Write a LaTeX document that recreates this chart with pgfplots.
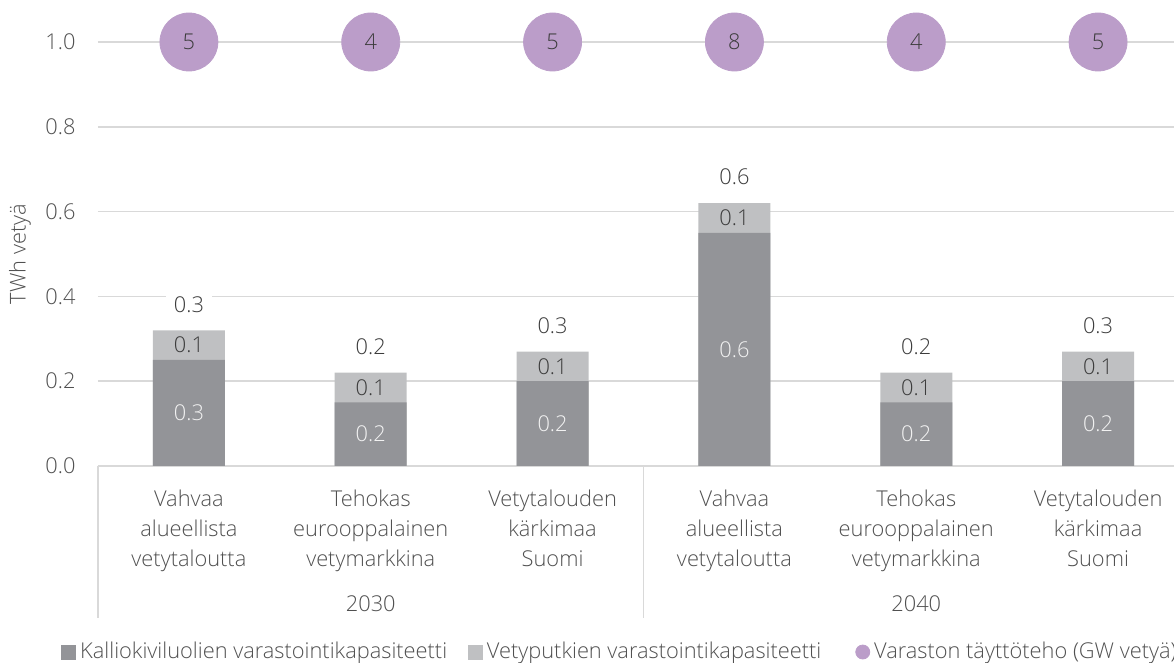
\documentclass[border=0pt]{standalone}
\usepackage{pgfplots}
\pgfplotsset{compat=1.18}
\usepackage{pgfplotstable}
\usepackage{fontspec}
\setmainfont{Open Sans Light}
\definecolor{darkbar}{RGB}{147,148,152}
\definecolor{lightbar}{RGB}{191,192,194}
\definecolor{dot}{RGB}{187,157,201}
\definecolor{gridc}{RGB}{217,217,217}
\definecolor{txt}{RGB}{80,80,80}
\definecolor{lbl}{RGB}{60,60,60}

% storage per scenario, TWh
\pgfplotstableread{
x dark light total dlab llab tlab
0 0.25 0.07 0.32 0.3 0.1 0.3
1 0.15 0.07 0.22 0.2 0.1 0.2
2 0.20 0.07 0.27 0.2 0.1 0.3
3 0.55 0.07 0.62 0.6 0.1 0.6
4 0.15 0.07 0.22 0.2 0.1 0.2
5 0.20 0.07 0.27 0.2 0.1 0.3
}\bars
% filling rate, GW
\pgfplotstableread{
x y n
0 1 5
1 1 4
2 1 5
3 1 8
4 1 4
5 1 5
}\rate

\newcommand{\fnt}{\fontsize{10.9}{15}\selectfont}

\begin{document}
\begin{tikzpicture}
\begin{axis}[
    at={(0,0)}, anchor=south west,
    scale only axis,
    width=545.5pt, height=212pt,
    xmin=-0.5, xmax=5.5, ymin=0, ymax=1,
    clip=false,
    axis line style={draw=none},
    major tick length=0pt,
    ytick={0,0.2,0.4,0.6,0.8,1},
    ymajorgrids,
    major grid style={gridc, line width=0.75pt},
    xtick={0,1,2,3,4,5},
    xticklabels={{Vahvaa\\alueellista\\vetytaloutta},{Tehokas\\eurooppalainen\\vetymarkkina},{Vetytalouden\\kärkimaa\\Suomi},{Vahvaa\\alueellista\\vetytaloutta},{Tehokas\\eurooppalainen\\vetymarkkina},{Vetytalouden\\kärkimaa\\Suomi}},
    tick label style={font=\fnt, text=txt},
    xticklabel style={align=center, anchor=north, yshift=-8.5pt},
    yticklabel style={xshift=-7.7pt, /pgf/number format/.cd, fixed, fixed zerofill, precision=1, assume math mode=true},
    ylabel={TWh vetyä},
    ylabel style={at={(axis description cs:-0.0715,0.5)}, anchor=center, font=\fnt, text=txt},
    legend style={at={(axis description cs:-0.0394,-0.4387)}, anchor=west, draw=none, fill=none, font=\fnt, text=txt,
        legend columns=3,
        /tikz/column 2/.style={column sep=8.5pt},
        /tikz/column 4/.style={column sep=15pt}},
    legend cell align=left,
]
% bars: total first, bottom part over it
\addplot[ybar, bar width=36pt, bar shift=0pt, fill=lightbar, draw=none, forget plot] table[x=x, y=total] {\bars};
\addplot[ybar, bar width=36pt, bar shift=0pt, fill=darkbar, draw=none, forget plot] table[x=x, y=dark] {\bars};
% value labels
\addplot[draw=none, mark=none, forget plot, nodes near coords, point meta=explicit symbolic,
    every node near coord/.append style={anchor=center, font=\fnt, text=white!95!black}]
    table[x=x, y expr=\thisrow{dark}/2, meta=dlab] {\bars};
\addplot[draw=none, mark=none, forget plot, nodes near coords, point meta=explicit symbolic,
    every node near coord/.append style={anchor=center, font=\fnt, text=lbl}]
    table[x=x, y expr=\thisrow{dark}+\thisrow{light}/2, meta=llab] {\bars};
\addplot[draw=none, mark=none, forget plot, nodes near coords, point meta=explicit symbolic,
    every node near coord/.append style={anchor=south, yshift=5.5pt, fill=white, inner xsep=4pt, font=\fnt, text=lbl}]
    table[x=x, y=total, meta=tlab] {\bars};
% filling rate circles
\addplot[color=dot, only marks, mark=*, mark size=14.5pt, mark options={fill=dot, draw=dot}, forget plot,
    nodes near coords, point meta=explicit symbolic,
    every node near coord/.append style={anchor=center, font=\fnt, text=lbl}]
    table[x=x, y=y, meta=n] {\rate};

\addlegendimage{legend image code/.code={\fill[darkbar] (0pt,-3.5pt) rectangle (7pt,3.5pt);}}
\addlegendentry{Kalliokiviluolien varastointikapasiteetti}
\addlegendimage{legend image code/.code={\fill[lightbar] (0pt,-3.5pt) rectangle (7pt,3.5pt);}}
\addlegendentry{Vetyputkien varastointikapasiteetti}
\addlegendimage{legend image code/.code={\fill[dot] (3.5pt,0pt) circle (3.5pt);}}
\addlegendentry{Varaston täyttöteho (GW vetyä)}

% group separators and years
\draw[gridc, line width=0.75pt] (axis cs:-0.5,0) -- ++(0pt,-76pt);
\draw[gridc, line width=0.75pt] (axis cs:2.5,0) -- ++(0pt,-76pt);
\draw[gridc, line width=0.75pt] (axis cs:5.5,0) -- ++(0pt,-76pt);
\node[font=\fnt, text=txt] at ([yshift=-69pt]axis cs:1,0) {2030};
\node[font=\fnt, text=txt] at ([yshift=-69pt]axis cs:4,0) {2040};
\end{axis}
\pgfresetboundingbox
\useasboundingbox (-49pt,-98.5pt) rectangle (538pt,233pt);
\end{tikzpicture}
\end{document}
